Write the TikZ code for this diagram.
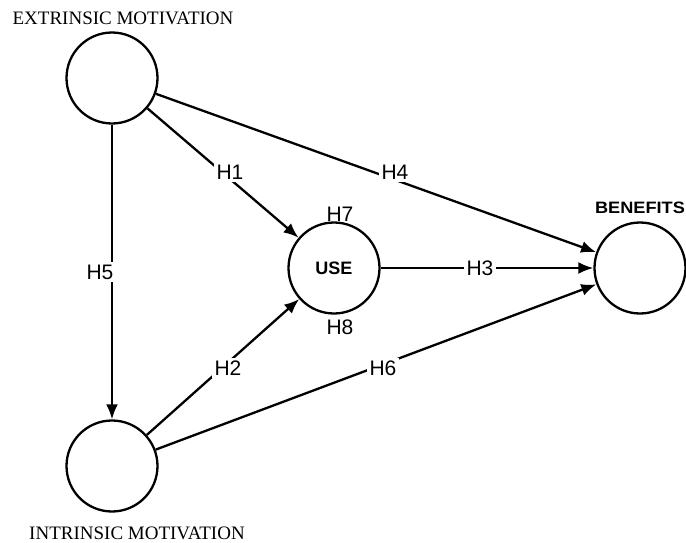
\documentclass[tikz,border=0pt]{standalone}
\usepackage{fontspec}
\setmainfont{Liberation Serif}
\setsansfont{Liberation Sans}
\usetikzlibrary{arrows.meta}
\begin{document}
\begin{tikzpicture}[x=1pt,y=-1pt,
  lv/.style={circle,draw,line width=2.3pt,minimum size=91pt,inner sep=0pt},
  conn/.style={line width=2.3pt,-{Latex[length=15pt,width=12pt]}},
  hlab/.style={fill=white,inner sep=3pt,font=\sffamily\fontsize{21}{21}\selectfont},
  ttl/.style={font=\fontsize{19}{19}\selectfont,inner sep=0pt},
  sans/.style={font=\sffamily\bfseries\fontsize{16.5}{16.5}\selectfont,inner sep=0pt}]
\useasboundingbox[fill=white] (0,0) rectangle (686,542);
\node[lv] (ext) at (112,78) {};
\node[lv] (int) at (112,466) {};
\node[lv] (use) at (334,268) {\sffamily\bfseries\fontsize{18}{18}\selectfont USE};
\node[lv] (ben) at (640,268) {};
\node[ttl] (extl) at (123,18) {EXTRINSIC MOTIVATION};
\node[ttl] (intl) at (137,533) {INTRINSIC MOTIVATION};
\node[sans,xscale=1.1] (benl) at (640,208) {BENEFITS};
\draw[conn] (ext) -- (use);
\draw[conn] (ext) -- (ben);
\draw[conn] (ext) -- (int);
\draw[conn] (int) -- (use);
\draw[conn] (int) -- (ben);
\draw[conn] (use) -- (ben);
\node[hlab] (h1) at (230,172) {H1};
\node[hlab] (h4) at (395,172) {H4};
\node[hlab] (h5) at (100,272) {H5};
\node[hlab] (h2) at (228,368) {H2};
\node[hlab] (h6) at (383,368) {H6};
\node[hlab] (h3) at (480,268) {H3};
\node[hlab,fill=none] (h7) at (340,214) {H7};
\node[hlab,fill=none] (h8) at (340,327) {H8};
\end{tikzpicture}
\end{document}
